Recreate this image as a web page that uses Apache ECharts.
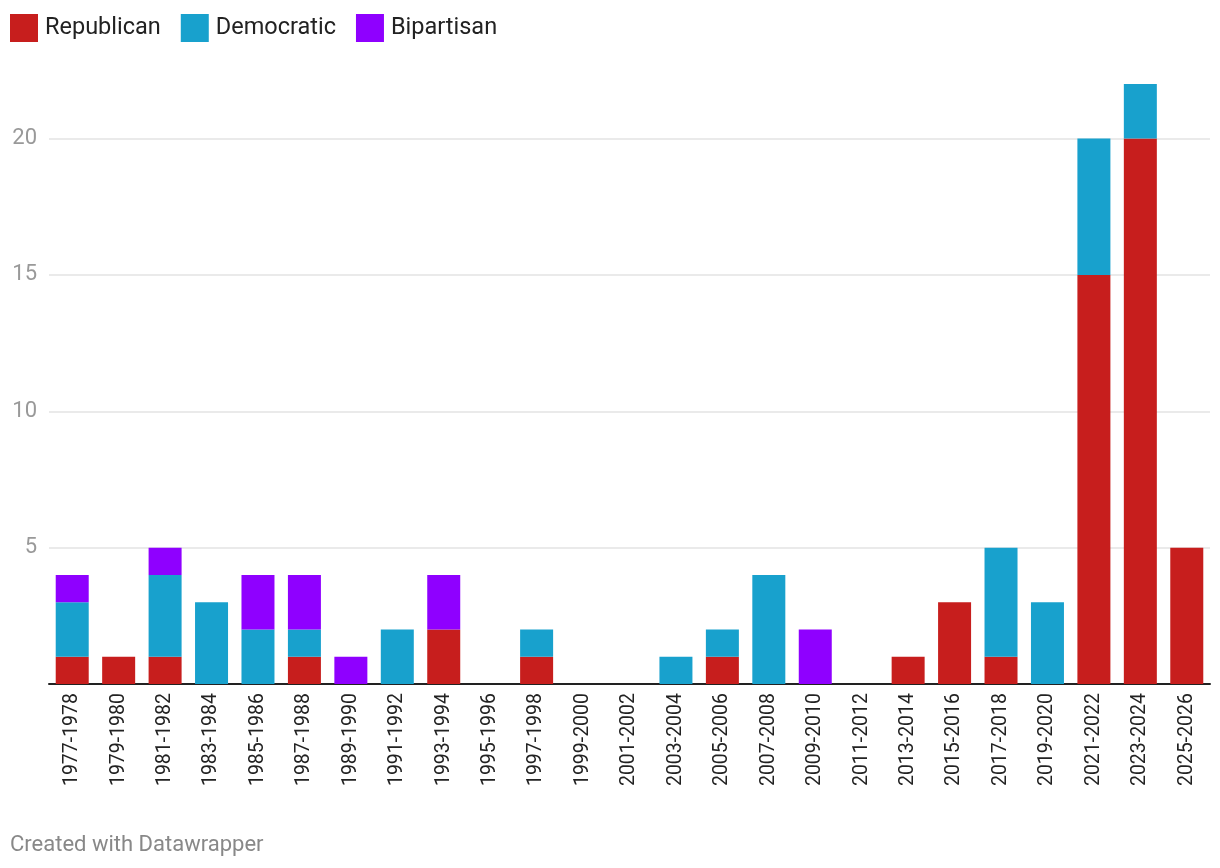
<!DOCTYPE html>
<html>
<head>
<meta charset="utf-8">
<script src="https://cdn.jsdelivr.net/npm/echarts@6/dist/echarts.min.js"></script>
<style>
html,body{margin:0;padding:0;background:#fff;}
#chart{width:1220px;height:868px;}
</style>
</head>
<body>
<div id="chart"></div>
<script>
const categories = ['1977-1978','1979-1980','1981-1982','1983-1984','1985-1986','1987-1988','1989-1990','1991-1992','1993-1994','1995-1996','1997-1998','1999-2000','2001-2002','2003-2004','2005-2006','2007-2008','2009-2010','2011-2012','2013-2014','2015-2016','2017-2018','2019-2020','2021-2022','2023-2024','2025-2026'];
const republican = [1,1,1,0,0,1,0,0,2,0,1,0,0,0,1,0,0,0,1,3,1,0,15,20,5];
const democratic = [2,0,3,3,2,1,0,2,0,0,1,0,0,1,1,4,0,0,0,0,4,3,5,2,0];
const bipartisan = [1,0,1,0,2,2,1,0,2,0,0,0,0,0,0,0,2,0,0,0,0,0,0,0,0];
const yTicks = [5,10,15,20];

const chart = echarts.init(document.getElementById('chart'));
const font = 'Roboto, "Noto Sans", sans-serif';
chart.setOption({
  animation:false,
  textStyle:{fontFamily:font},
  title:{text:'Created with Datawrapper',left:5,top:829,textStyle:{fontSize:22,fontWeight:'normal',color:'#888',fontFamily:font}},
  legend:{left:5,top:9,itemWidth:28,itemHeight:28,itemGap:20,icon:'rect',
    textStyle:{fontSize:23.5,color:'#222',fontFamily:font,padding:[0,0,0,2]},
    data:['Republican','Democratic','Bipartisan']},
  grid:{left:49,right:10,top:84,bottom:184,containLabel:false},
  xAxis:{type:'category',data:categories,
    axisLine:{lineStyle:{color:'#222',width:2}},
    axisTick:{show:false},
    axisLabel:{rotate:90,fontSize:19.5,color:'#222',margin:9,interval:0,fontFamily:font}},
  yAxis:{type:'value',min:0,max:22,interval:5,
    axisLine:{show:false},axisTick:{show:false},
    axisLabel:{fontSize:22,color:'#999',margin:12,fontFamily:font,
      formatter:v=>yTicks.includes(v)?String(v):''},
    splitLine:{lineStyle:{color:['rgba(0,0,0,0)','#e3e3e3','#e3e3e3','#e3e3e3','#e3e3e3','rgba(0,0,0,0)'],width:1.5}}},
  series:[
    {name:'Republican',type:'bar',stack:'s',data:republican,barWidth:33,itemStyle:{color:'#c71e1d'}},
    {name:'Democratic',type:'bar',stack:'s',data:democratic,barWidth:33,itemStyle:{color:'#18a1cd'}},
    {name:'Bipartisan',type:'bar',stack:'s',data:bipartisan,barWidth:33,itemStyle:{color:'#8f00ff'}}
  ]
});
</script>
</body>
</html>
